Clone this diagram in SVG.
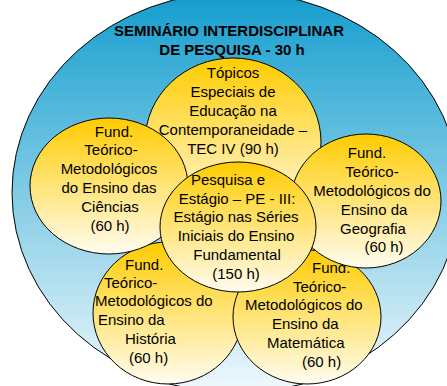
<svg xmlns="http://www.w3.org/2000/svg" width="447" height="386" viewBox="0 0 447 386">
<defs>
<linearGradient id="gBlue" x1="0" y1="0" x2="0" y2="1">
<stop offset="0" stop-color="#139dce"/>
<stop offset="1" stop-color="#f0f9fd"/>
</linearGradient>
<linearGradient id="gYel" x1="0" y1="0" x2="0" y2="1">
<stop offset="0" stop-color="#ffcc00"/>
<stop offset="1" stop-color="#fffcf0"/>
</linearGradient>
</defs>
<style>
.outer{fill:url(#gBlue);stroke:#000;stroke-width:1}
.bub{fill:url(#gYel);stroke:#000;stroke-width:1}
text{font-family:"Liberation Sans",Arial,sans-serif;font-size:15px;fill:#000}
.t{font-weight:bold}
.m{text-anchor:middle}
</style>
<rect width="447" height="386" fill="#fff"/>
<g id="seminario">
<ellipse class="outer" cx="236" cy="192.5" rx="224" ry="200.5"/>
<text class="t m" x="229" y="36">SEMINÁRIO INTERDISCIPLINAR</text>
<text class="t m" x="232" y="55">DE PESQUISA - 30 h</text>
</g>
<g id="historia">
<ellipse class="bub" cx="168" cy="313" rx="75" ry="71"/>
<text x="125" y="270">Fund.</text>
<text x="104" y="288">Teórico-</text>
<text x="95" y="306">Metodológicos do</text>
<text x="98" y="325">Ensino da</text>
<text x="125" y="344">História</text>
<text x="129" y="363">(60 h)</text>
</g>
<g id="matematica">
<ellipse class="bub" cx="307" cy="317" rx="74" ry="67"/>
<text x="312" y="273">Fund.</text>
<text x="293" y="292">Teórico-</text>
<text x="245" y="310">Metodológicos do</text>
<text x="272" y="329">Ensino da</text>
<text x="267" y="348">Matemática</text>
<text x="302" y="367">(60 h)</text>
</g>
<g id="topicos">
<ellipse class="bub" cx="233" cy="142" rx="88" ry="84"/>
<text class="m" x="233" y="78">Tópicos</text>
<text class="m" x="233" y="97">Especiais de</text>
<text class="m" x="233" y="116">Educação na</text>
<text class="m" x="233" y="135">Contemporaneidade –</text>
<text class="m" x="233" y="154">TEC IV (90 h)</text>
</g>
<g id="ciencias">
<ellipse class="bub" cx="109" cy="186" rx="79" ry="68"/>
<text class="m" x="114" y="137">Fund.</text>
<text class="m" x="111" y="155">Teórico-</text>
<text class="m" x="109" y="174">Metodológicos</text>
<text class="m" x="109" y="193">do Ensino das</text>
<text class="m" x="110" y="212">Ciências</text>
<text class="m" x="110" y="231">(60 h)</text>
</g>
<g id="geografia">
<ellipse class="bub" cx="366" cy="201" rx="75" ry="67"/>
<text class="m" x="367" y="158">Fund.</text>
<text class="m" x="372" y="177">Teórico-</text>
<text class="m" x="372" y="196">Metodológicos do</text>
<text class="m" x="374" y="215">Ensino da</text>
<text class="m" x="373" y="234">Geografia</text>
<text class="m" x="384" y="252">(60 h)</text>
</g>
<g id="estagio">
<ellipse class="bub" cx="238" cy="227" rx="78" ry="65"/>
<text class="m" x="228" y="185">Pesquisa e</text>
<text class="m" x="237" y="204">Estágio – PE - III:</text>
<text class="m" x="236" y="222">Estágio nas Séries</text>
<text class="m" x="236" y="241">Iniciais do Ensino</text>
<text class="m" x="237" y="260">Fundamental</text>
<text class="m" x="236" y="279">(150 h)</text>
</g>
</svg>
